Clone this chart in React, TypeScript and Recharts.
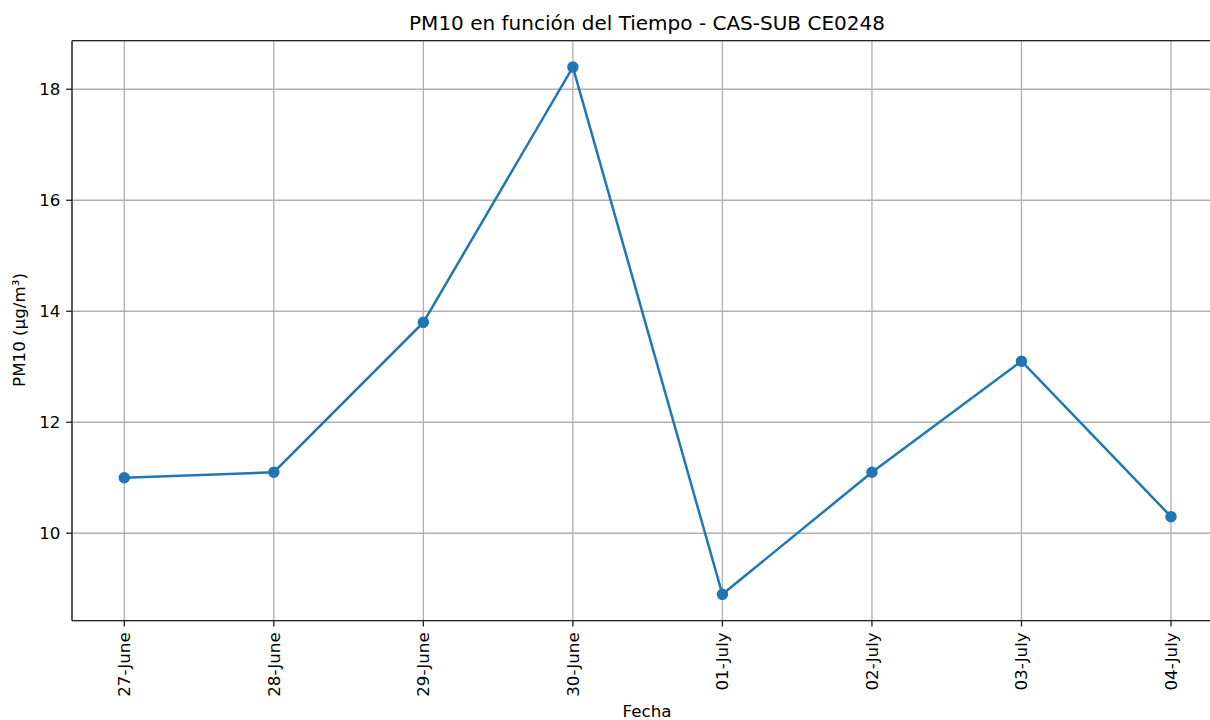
import React from 'react';
import { LineChart, Line, XAxis, YAxis, CartesianGrid, ReferenceLine } from 'recharts';

const dates = ['27-June', '28-June', '29-June', '30-June', '01-July', '02-July', '03-July', '04-July'];
const pm10 = [11.0, 11.1, 13.8, 18.4, 8.9, 11.1, 13.1, 10.3];
const yTicks = [10, 12, 14, 16, 18];

const data = dates.map((d, i) => ({ date: d, pm10: pm10[i] }));

const FONT = '"DejaVu Sans", sans-serif';
const Y_MIN = 8.425;
const Y_MAX = 18.875;

const XTick = (props: any) => {
  const { x, y, payload } = props;
  return (
    <text
      x={x}
      y={y}
      transform={`rotate(-90, ${x}, ${y})`}
      textAnchor="end"
      dy="0.35em"
      fontFamily={FONT}
      fontSize={16.7}
      fill="#000"
    >
      {payload.value}
    </text>
  );
};

export default function App() {
  return (
    <div style={{ position: 'absolute', left: 0, top: 0, width: 1210, height: 720, overflow: 'hidden', background: '#fff' }}>
      <LineChart
        width={1240}
        height={720}
        data={data}
        margin={{ top: 40.7, right: 16.7, bottom: 0, left: 0 }}
      >
        <CartesianGrid stroke="#b0b0b0" strokeWidth={1.33} />
        <XAxis
          dataKey="date"
          height={99.3}
          padding={{ left: 52.3, right: 52.3 }}
          interval={0}
          tick={<XTick />}
          tickSize={5.8}
          tickMargin={5.8}
          axisLine={{ stroke: '#222', strokeWidth: 1.33 }}
          tickLine={{ stroke: '#222', strokeWidth: 1.33 }}
        />
        <YAxis
          width={72}
          type="number"
          domain={[Y_MIN, Y_MAX]}
          ticks={yTicks}
          allowDataOverflow
          tickSize={5.8}
          tickMargin={5.8}
          tick={{ fontFamily: FONT, fontSize: 16.7, fill: '#000' }}
          axisLine={{ stroke: '#222', strokeWidth: 1.33 }}
          tickLine={{ stroke: '#222', strokeWidth: 1.33 }}
        />
        <ReferenceLine y={Y_MAX} stroke="#222" strokeWidth={1.33} ifOverflow="extendDomain" />
        <Line
          type="linear"
          dataKey="pm10"
          stroke="#1f77b4"
          strokeWidth={2.5}
          dot={{ r: 5, fill: '#1f77b4', stroke: '#1f77b4', strokeWidth: 1.5 }}
          activeDot={false}
          isAnimationActive={false}
        />
      </LineChart>
      <svg
        width={1210}
        height={720}
        style={{ position: 'absolute', left: 0, top: 0, pointerEvents: 'none' }}
      >
        <text x={647} y={29.5} textAnchor="middle" fontFamily={FONT} fontSize={20} fill="#000">
          PM10 en función del Tiempo - CAS-SUB CE0248
        </text>
        <text
          x={25}
          y={330}
          transform="rotate(-90, 25, 330)"
          textAnchor="middle"
          fontFamily={FONT}
          fontSize={16.7}
          fill="#000"
        >
          PM10 (µg/m³)
        </text>
        <text x={647} y={717} textAnchor="middle" fontFamily={FONT} fontSize={16.7} fill="#000">
          Fecha
        </text>
      </svg>
    </div>
  );
}
